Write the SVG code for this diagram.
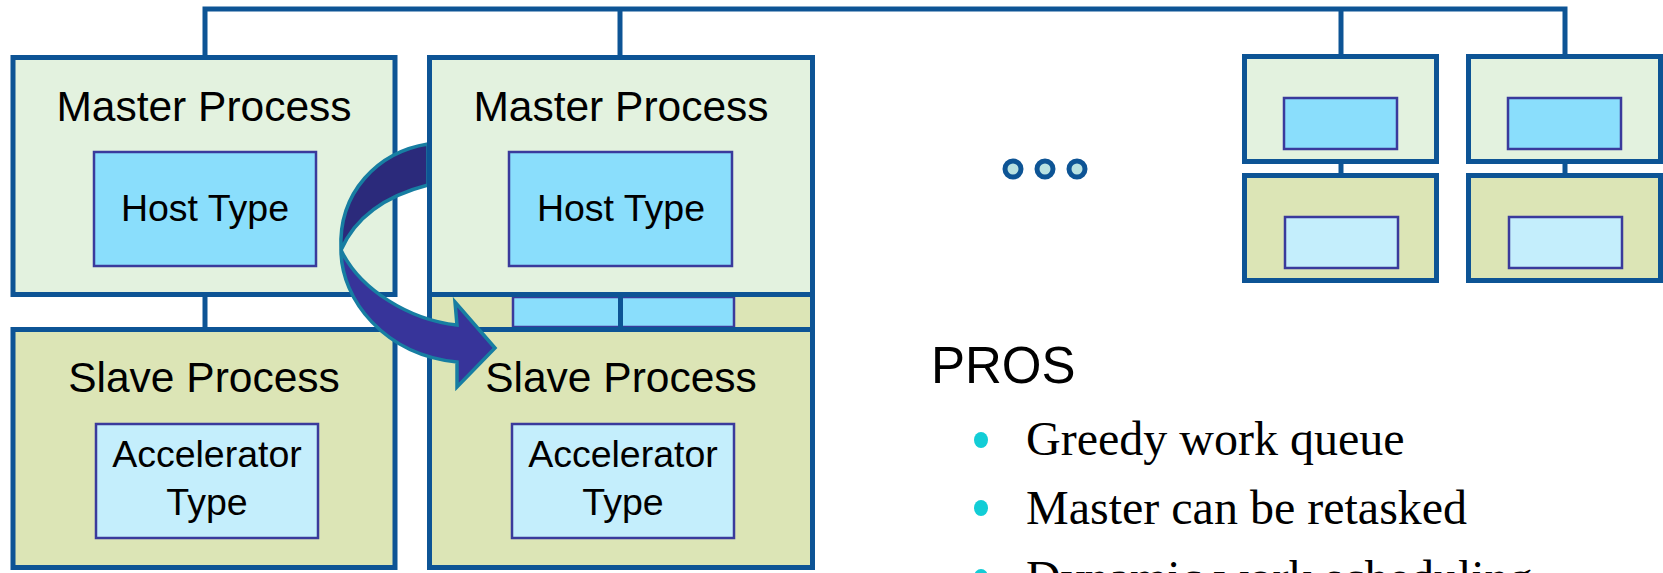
<svg xmlns="http://www.w3.org/2000/svg" width="1663" height="573" viewBox="0 0 1663 573">
  <style>
    .frame { stroke: #0d5495; stroke-width: 5; }
    .master { fill: #e3f2df; }
    .slave { fill: #dce5b6; }
    .host { fill: #8adefc; stroke: #3a3a9c; stroke-width: 2.5; }
    .accel { fill: #c4eefc; stroke: #3a3a9c; stroke-width: 2.5; }
    .wire { fill: none; stroke: #0d5495; stroke-width: 5; }
    .lbl { font-family: "Liberation Sans", Arial, sans-serif; fill: #000; text-anchor: middle; }
    .big { font-size: 42.5px; }
    .mid { font-size: 37.5px; }
    .bullet-text { font-family: "Liberation Serif", "Times New Roman", serif; font-size: 48px; fill: #000; }
    .dot { fill: #12cdd6; }
    .ell { fill: #b8e1e1; stroke: #0d5495; stroke-width: 5; }
    .ribbon { stroke: #177ea2; stroke-width: 3.5; stroke-linejoin: miter; }
  </style>

  <!-- bus and links -->
  <g id="connectors">
    <path class="wire" d="M205,55 V9 H1565 V55"/>
    <path class="wire" d="M620,9 V55"/>
    <path class="wire" d="M1341,9 V55"/>
    <path class="wire" d="M205,296 V329"/>
    <path class="wire" d="M1341,162 V176"/>
    <path class="wire" d="M1565,162 V176"/>
  </g>

  <!-- column 1 -->
  <g id="master-1">
    <rect class="frame master" x="13" y="57.5" width="382" height="237"/>
    <text class="lbl big" x="204" y="121">Master Process</text>
    <rect class="host" x="94" y="152" width="222" height="114"/>
    <text class="lbl mid" x="205" y="221">Host Type</text>
  </g>
  <g id="slave-1">
    <rect class="frame slave" x="13" y="329.5" width="382" height="238"/>
    <text class="lbl big" x="204" y="392">Slave Process</text>
    <rect class="accel" x="96" y="424" width="222" height="114"/>
    <text class="lbl mid" x="207" y="467">Accelerator</text>
    <text class="lbl mid" x="207" y="515">Type</text>
  </g>

  <!-- column 2: master and slave joined -->
  <g id="joint-2">
    <rect class="frame slave" x="429.5" y="294.5" width="383" height="35"/>
    <rect class="host" x="513" y="297" width="221" height="30"/>
    <line x1="620.5" y1="297" x2="620.5" y2="327" stroke="#0d5495" stroke-width="5"/>
  </g>
  <g id="slave-2">
    <rect class="frame slave" x="429.5" y="329.5" width="383" height="238"/>
    <text class="lbl big" x="621" y="392">Slave Process</text>
    <rect class="accel" x="512" y="424" width="222" height="114"/>
    <text class="lbl mid" x="623" y="467">Accelerator</text>
    <text class="lbl mid" x="623" y="515">Type</text>
  </g>

  <!-- curved hand-off arrow -->
  <g id="handoff-arrow">
    <path class="ribbon" fill="#2b2a7b" d="M428,144 C378,152 338,192 341,250 C355,218 385,196 428,185 Z"/>
    <path class="ribbon" fill="#37349a" d="M341,250 C341,300 385,355 457,362 L457,387 L495,348 L455,302 L457,325 C410,320 360,290 341,250 Z"/>
  </g>

  <g id="master-2">
    <rect class="frame master" x="429.5" y="57.5" width="383" height="237"/>
    <text class="lbl big" x="621" y="121">Master Process</text>
    <rect class="host" x="509" y="152" width="223" height="114"/>
    <text class="lbl mid" x="621" y="221">Host Type</text>
  </g>

  <!-- ellipsis -->
  <g id="ellipsis">
    <circle class="ell" cx="1013" cy="169" r="8"/>
    <circle class="ell" cx="1045" cy="169" r="8"/>
    <circle class="ell" cx="1077" cy="169" r="8"/>
  </g>

  <!-- compact pairs -->
  <g id="master-n1">
    <rect class="frame master" x="1244.5" y="56.5" width="192" height="105"/>
    <rect class="host" x="1284" y="98" width="113" height="51"/>
  </g>
  <g id="slave-n1">
    <rect class="frame slave" x="1244.5" y="175.5" width="192" height="105"/>
    <rect class="accel" x="1285" y="217" width="113" height="51"/>
  </g>
  <g id="master-n2">
    <rect class="frame master" x="1468.5" y="56.5" width="192" height="105"/>
    <rect class="host" x="1508" y="98" width="113" height="51"/>
  </g>
  <g id="slave-n2">
    <rect class="frame slave" x="1468.5" y="175.5" width="192" height="105"/>
    <rect class="accel" x="1509" y="217" width="113" height="51"/>
  </g>

  <!-- pros list -->
  <g id="pros">
    <text x="931" y="383" font-family="'Liberation Sans', Arial, sans-serif" font-size="51" fill="#000">PROS</text>
    <ellipse class="dot" cx="981" cy="440" rx="7" ry="8"/>
    <text class="bullet-text" x="1026" y="455">Greedy work queue</text>
    <ellipse class="dot" cx="981" cy="508" rx="7" ry="8"/>
    <text class="bullet-text" x="1026" y="524">Master can be retasked</text>
    <ellipse class="dot" cx="981" cy="577" rx="7" ry="8"/>
    <text class="bullet-text" x="1026" y="594">Dynamic work scheduling</text>
  </g>
</svg>
